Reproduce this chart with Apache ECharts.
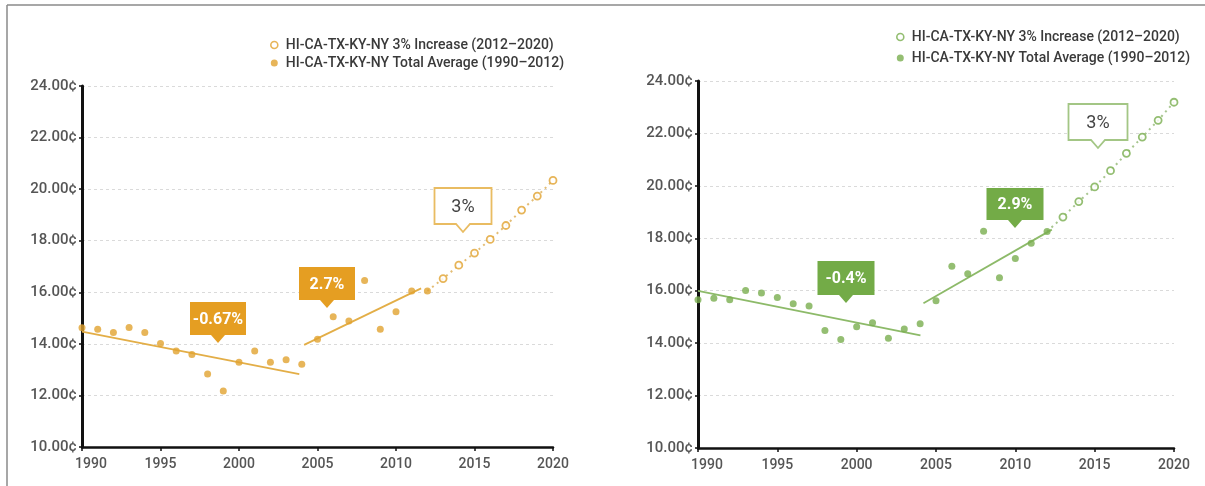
<!DOCTYPE html>
<html>
<head>
<meta charset="utf-8">
<script src="https://cdn.jsdelivr.net/npm/echarts@6/dist/echarts.min.js"></script>
<style>
  html, body { margin: 0; padding: 0; background: #fff; }
  #chart { width: 1205px; height: 486px; }
</style>
</head>
<body>
<div id="chart"></div>
<script>
// Years with observed averages
const histYears = [1990, 1991, 1992, 1993, 1994, 1995, 1996, 1997, 1998, 1999, 2000, 2001,
  2002, 2003, 2004, 2005, 2006, 2007, 2008, 2009, 2010, 2011, 2012];
// Projection years (starts at the last observed year)
const projYears = [2012, 2013, 2014, 2015, 2016, 2017, 2018, 2019, 2020];

// Left panel values (cents)
const leftAvg = [14.62, 14.57, 14.44, 14.63, 14.44, 14.01, 13.72, 13.59, 12.83, 12.17, 13.29, 13.72,
  13.29, 13.38, 13.21, 14.18, 15.05, 14.89, 16.46, 14.57, 15.25, 16.05, 16.05];
const leftProj = [16.05, 16.53, 17.05, 17.52, 18.05, 18.59, 19.19, 19.73, 20.34];
const leftTrendA = [[1990, 14.47], [2003.84, 12.83]];
const leftTrendB = [[2004.15, 13.96], [2011.6, 16.15]];
const leftNotes = [[1998.68, 14.02], [2005.62, 15.38], [2014.25, 18.33]];
const leftNoteText = ['-0.67%', '2.7%', '3%'];

// Right panel values (cents)
const rightAvg = [15.66, 15.71, 15.66, 16.01, 15.91, 15.74, 15.50, 15.42, 14.48, 14.14, 14.63, 14.78,
  14.19, 14.54, 14.74, 15.62, 16.93, 16.65, 18.27, 16.49, 17.23, 17.81, 18.26];
const rightProj = [18.26, 18.81, 19.40, 19.96, 20.58, 21.24, 21.86, 22.50, 23.19];
const rightTrendA = [[1990, 15.99], [2004.02, 14.30]];
const rightTrendB = [[2004.21, 15.52], [2012.3, 18.33]];
const rightNotes = [[1999.33, 15.52], [2009.99, 18.38], [2015.23, 21.43]];
const rightNoteText = ['-0.4%', '2.9%', '3%'];

// Axis ticks
const yTicks = { min: 10, max: 24, interval: 2 };
const xTicks = { min: 1990, max: 2020, interval: 5 };

const NAME_PROJ = 'HI-CA-TX-KY-NY 3% Increase (2012\u20132020)';
const NAME_AVG = 'HI-CA-TX-KY-NY Total Average (1990\u20132012)';

const FONT = 'Roboto, "Liberation Sans", sans-serif';

const themes = {
  orange: { dot: '#E1A22F', box: '#E59E22', trend: '#E3AE47', dash: '#E3BD75', border: '#E9BC62' },
  green:  { dot: '#79AE4F', box: '#73AB47', trend: '#8DBA69', dash: '#A8C690', border: '#A3C685' }
};

// box size per callout: filled boxes show a trend rate, the outlined one the projected rate
const boxSizesLeft = [[56, 33, true], [56, 33, true], [57, 36, false]];
const boxSizesRight = [[57, 34, true], [57, 32, true], [59, 36, false]];

const pair = (xs, ys) => xs.map((x, i) => [x, ys[i]]);

function calloutSeries(notes, texts, sizes, theme, axisIdx) {
  return {
    type: 'custom',
    xAxisIndex: axisIdx, yAxisIndex: axisIdx,
    silent: true, clip: false, z: 10,
    data: notes,
    renderItem: function (params, api) {
      const p = api.coord([api.value(0), api.value(1)]);
      const s = sizes[params.dataIndex];
      const w = s[0], h = s[1], filled = s[2];
      const nw = 14, nh = 8;
      const tx = Math.round(p[0]), ty = Math.round(p[1]);
      const l = tx - w / 2, r = tx + w / 2, b = ty - nh, t = b - h;
      return {
        type: 'group',
        children: [{
          type: 'polygon',
          shape: { points: [[l, t], [r, t], [r, b], [tx + nw / 2, b], [tx, ty], [tx - nw / 2, b], [l, b]] },
          style: filled ? { fill: theme.box } : { fill: '#fff', stroke: theme.border, lineWidth: 1.8 }
        }, {
          type: 'text',
          style: {
            text: texts[params.dataIndex],
            x: tx, y: t + h / 2 + 1,
            align: 'center', verticalAlign: 'middle',
            fill: filled ? '#fff' : '#444',
            font: (filled ? 'bold 16px ' : '18px ') + FONT
          }
        }]
      };
    }
  };
}

function panelSeries(avg, proj, trendA, trendB, notes, texts, sizes, theme, idx) {
  const projData = pair(projYears, proj).map((d, i) => i === 0 ? { value: d, symbol: 'none' } : d);
  return [
    {
      name: NAME_PROJ + '#line', type: 'line', xAxisIndex: idx, yAxisIndex: idx,
      data: pair(projYears, proj), showSymbol: false, silent: true, z: 2,
      lineStyle: { color: theme.dash, width: 2, type: [2, 4] }
    },
    {
      name: NAME_PROJ, type: 'scatter', xAxisIndex: idx, yAxisIndex: idx,
      data: projData, symbolSize: 7, z: 4,
      itemStyle: { color: '#fff', borderColor: theme.dot, borderWidth: 1.8 }
    },
    {
      name: NAME_AVG, type: 'scatter', xAxisIndex: idx, yAxisIndex: idx,
      data: pair(histYears, avg), symbolSize: 7, z: 4,
      itemStyle: { color: theme.dot }
    },
    {
      type: 'line', xAxisIndex: idx, yAxisIndex: idx, data: trendA, showSymbol: false,
      silent: true, z: 3, lineStyle: { color: theme.trend, width: 1.8 }
    },
    {
      type: 'line', xAxisIndex: idx, yAxisIndex: idx, data: trendB, showSymbol: false,
      silent: true, z: 3, lineStyle: { color: theme.trend, width: 1.8 }
    },
    calloutSeries(notes, texts, sizes, theme, idx)
  ];
}

function xAxis(idx) {
  return {
    type: 'value', gridIndex: idx, min: xTicks.min, max: xTicks.max, interval: xTicks.interval,
    axisLine: { onZero: false, lineStyle: { color: '#111', width: 2.5 } },
    axisTick: { show: true, length: 4, lineStyle: { color: '#111', width: 1.5 } },
    axisLabel: {
      color: '#555', fontSize: 14, fontWeight: 500, fontFamily: FONT, margin: 10,
      // the first year is nudged right so it clears the lowest price label
      formatter: v => v === xTicks.min ? '{first|' + v + '}' : String(v),
      rich: { first: { color: '#555', fontSize: 14, fontWeight: 500, fontFamily: FONT, padding: [0, 0, 0, 18] } }
    },
    splitLine: { show: false }
  };
}

function yAxis(idx) {
  return {
    type: 'value', gridIndex: idx, min: yTicks.min, max: yTicks.max, interval: yTicks.interval,
    axisLine: { show: true, lineStyle: { color: '#111', width: 3 } },
    axisTick: { show: true, length: 3, lineStyle: { color: '#111', width: 1.5 } },
    axisLabel: { color: '#555', fontSize: 15, fontWeight: 500, fontFamily: FONT, margin: 5, formatter: v => v.toFixed(2) + '\u00a2' },
    splitLine: { show: true, lineStyle: { color: '#DADADA', width: 1, type: [3, 3] } }
  };
}

function legend(theme, left, top, gap) {
  return {
    orient: 'vertical', left: left, top: top, itemWidth: 7, itemHeight: 7, itemGap: gap,
    selectedMode: false,
    textStyle: { color: '#3a3a3a', fontSize: 14, fontWeight: 500, fontFamily: FONT, lineHeight: 16, padding: [0, 0, 0, 3] },
    data: [
      { name: NAME_PROJ, icon: 'circle', itemStyle: { color: '#fff', borderColor: theme.dot, borderWidth: 1.6 } },
      { name: NAME_AVG, icon: 'circle', itemStyle: { color: theme.dot, borderWidth: 0 } }
    ]
  };
}

const chart = echarts.init(document.getElementById('chart'), null, { renderer: 'canvas' });
chart.setOption({
  backgroundColor: '#fff',
  animation: false,
  grid: [
    { left: 82, top: 86, width: 471, height: 361 },
    { left: 698, top: 81, width: 476, height: 367 }
  ],
  xAxis: [xAxis(0), xAxis(1)],
  yAxis: [yAxis(0), yAxis(1)],
  legend: [
    legend(themes.orange, 265, 32, 2),
    legend(themes.green, 891, 24, 5)
  ],
  graphic: [
    { type: 'line', shape: { x1: 7, y1: 5, x2: 1205, y2: 5 }, style: { stroke: '#8a8a8a', lineWidth: 1.5 } },
    { type: 'line', shape: { x1: 7, y1: 5, x2: 7, y2: 486 }, style: { stroke: '#8a8a8a', lineWidth: 1.5 } }
  ],
  series: [
    ...panelSeries(leftAvg, leftProj, leftTrendA, leftTrendB, leftNotes, leftNoteText, boxSizesLeft, themes.orange, 0),
    ...panelSeries(rightAvg, rightProj, rightTrendA, rightTrendB, rightNotes, rightNoteText, boxSizesRight, themes.green, 1)
  ]
});
</script>
</body>
</html>
